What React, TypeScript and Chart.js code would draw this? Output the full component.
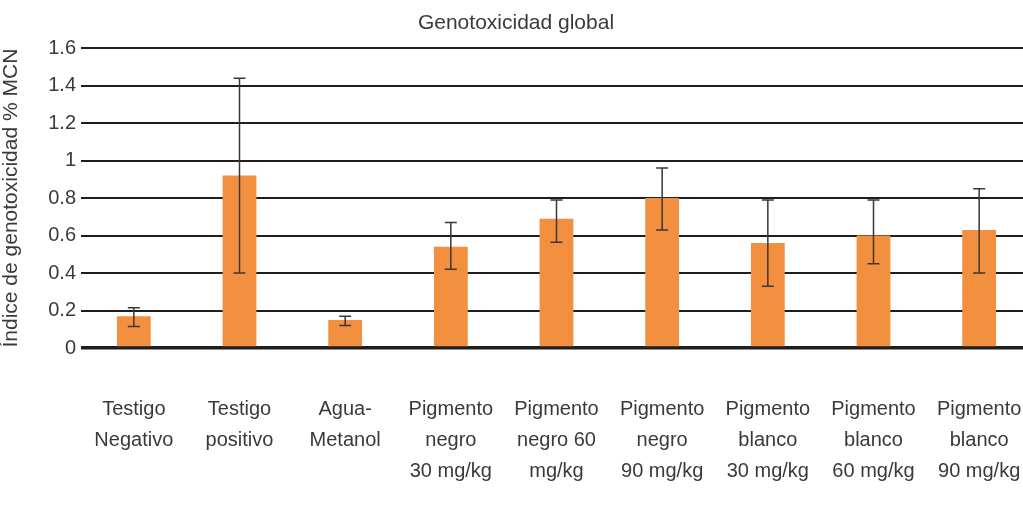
import React, { useEffect, useRef } from "react";
import { Chart, registerables } from "chart.js";

Chart.register(...registerables);

const categories: string[][] = [
  ["Testigo", "Negativo"],
  ["Testigo", "positivo"],
  ["Agua-", "Metanol"],
  ["Pigmento", "negro", "30 mg/kg"],
  ["Pigmento", "negro 60", "mg/kg"],
  ["Pigmento", "negro", "90 mg/kg"],
  ["Pigmento", "blanco", "30 mg/kg"],
  ["Pigmento", "blanco", "60 mg/kg"],
  ["Pigmento", "blanco", "90 mg/kg"],
];
const values = [0.17, 0.92, 0.15, 0.54, 0.69, 0.8, 0.56, 0.6, 0.63];
const errHigh = [0.215, 1.44, 0.17, 0.67, 0.79, 0.96, 0.79, 0.79, 0.85];
const errLow = [0.115, 0.4, 0.12, 0.42, 0.565, 0.63, 0.33, 0.45, 0.4];

const titleText = "Genotoxicidad global";
const yTitleText = "Índice de genotoxicidad % MCN";

const FONT = "'Liberation Sans', Arial, sans-serif";
const TEXT = "#3a3a3a";

const errorBars = {
  id: "errorBars",
  afterDatasetsDraw(chart: any) {
    const meta = chart.getDatasetMeta(0);
    const y = chart.scales.y;
    const ctx = chart.ctx;
    ctx.save();
    ctx.strokeStyle = "#3d3636";
    ctx.lineWidth = 1.5;
    meta.data.forEach((bar: any, i: number) => {
      const x = bar.x;
      const yt = y.getPixelForValue(errHigh[i]);
      const yb = y.getPixelForValue(errLow[i]);
      const cap = 6;
      ctx.beginPath();
      ctx.moveTo(x, yt);
      ctx.lineTo(x, yb);
      ctx.moveTo(x - cap, yt);
      ctx.lineTo(x + cap, yt);
      ctx.moveTo(x - cap, yb);
      ctx.lineTo(x + cap, yb);
      ctx.stroke();
    });
    ctx.restore();
  },
};

export default function App() {
  const ref = useRef<HTMLCanvasElement>(null);
  useEffect(() => {
    document.body.style.overflow = "hidden";
    const chart = new Chart(ref.current as HTMLCanvasElement, {
      type: "bar",
      data: {
        labels: categories,
        datasets: [
          {
            data: values,
            backgroundColor: "#F29040",
            borderWidth: 0,
            barPercentage: 0.32,
            categoryPercentage: 1,
          },
        ],
      },
      options: {
        animation: false,
        responsive: false,
        layout: { padding: { top: 0, left: 0, right: 8, bottom: 0 } },
        plugins: {
          legend: { display: false },
          tooltip: { enabled: false },
          title: {
            display: true,
            text: titleText,
            color: TEXT,
            font: { family: FONT, size: 21, weight: "normal", lineHeight: 1.2 },
            padding: { top: 11, bottom: 12 },
          },
        },
        scales: {
          x: {
            afterFit(scale: any) {
              scale.height = 179;
            },
            grid: { display: false, tickLength: 41 },
            border: { display: false },
            ticks: {
              color: TEXT,
              font: { family: FONT, size: 20, lineHeight: 1.55 },
              maxRotation: 0,
              minRotation: 0,
              autoSkip: false,
              padding: 5,
            },
          },
          y: {
            min: 0,
            max: 1.6,
            afterFit(scale: any) {
              scale.width = 81;
            },
            border: { display: false },
            grid: {
              color: "#1e1e1e",
              lineWidth: (c: any) => (c.tick && c.tick.value === 0 ? 3.5 : 2),
              drawTicks: false,
            },
            ticks: {
              stepSize: 0.2,
              color: TEXT,
              font: { family: FONT, size: 20 },
              padding: 5,
              callback: (v: any) => String(Number(Number(v).toFixed(1))),
            },
            title: {
              display: true,
              text: yTitleText,
              color: TEXT,
              font: { family: FONT, size: 21, lineHeight: 1.0 },
              padding: { top: 1, bottom: 0 },
            },
          },
        },
      },
      plugins: [errorBars],
    } as any);
    return () => chart.destroy();
  }, []);
  return (
    <div style={{ position: "absolute", left: 0, top: 0, width: 1040, height: 527 }}>
      <canvas ref={ref} width={1040} height={527} style={{ display: "block" }} />
    </div>
  );
}
